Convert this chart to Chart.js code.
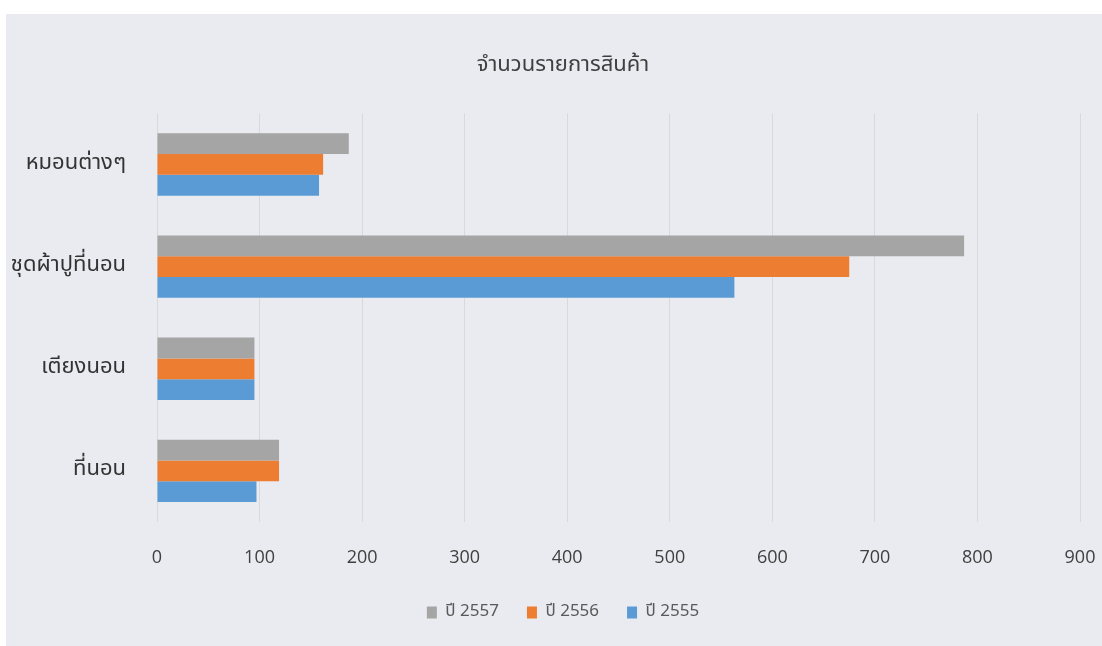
<!DOCTYPE html>
<html>
<head>
<meta charset="utf-8">
<script src="https://cdn.jsdelivr.net/npm/chart.js@4"></script>
<style>
    html, body { margin: 0; padding: 0; background: #ffffff; }
    #wrap {
        position: absolute;
        left: 6px; top: 14px;
        width: 1096px; height: 632px;
        background: #e9ebf0;
    }
</style>
</head>
<body>
<div id="wrap"><canvas id="productChart" width="1096" height="632"></canvas></div>
<script>
// Chart data
const categories = ['หมอนต่างๆ', 'ชุดผ้าปูที่นอน', 'เตียงนอน', 'ที่นอน'];
const seriesNames = ['ปี 2557', 'ปี 2556', 'ปี 2555'];
const values2557 = [187, 787, 95, 119];
const values2556 = [162, 675, 95, 119];
const values2555 = [158, 563, 95, 97];
const xMax = 900;
const xStep = 100;

const barColors = ['#a5a5a5', '#ed7d31', '#5b9bd5'];
const thaiFont = "'Noto Sans Thai', Tahoma, 'Open Sans', sans-serif";

// Title and legend sit a little right of the canvas centre in the original
const shiftBoxes = {
    id: 'shiftBoxes',
    afterLayout(chart) {
        [chart.legend, chart.titleBlock].forEach(box => {
            if (!box) return;
            box.left += 20;
            box.right += 20;
        });
    }
};

function initializeProductChart() {
    const ctx = document.getElementById('productChart');
    if (!ctx) return;

    const seriesValues = [values2557, values2556, values2555];

    return new Chart(ctx.getContext('2d'), {
        type: 'bar',
        data: {
            labels: categories,
            datasets: seriesNames.map((name, i) => ({
                label: name,
                data: seriesValues[i],
                backgroundColor: barColors[i],
                borderWidth: 0,
                categoryPercentage: 0.61,
                barPercentage: 1.0
            }))
        },
        options: {
            indexAxis: 'y',
            responsive: false,
            animation: false,
            layout: {
                padding: { top: 0, right: 22, bottom: 15, left: 0 }
            },
            scales: {
                x: {
                    min: 0,
                    max: xMax,
                    ticks: {
                        stepSize: xStep,
                        padding: 25,
                        color: '#404040',
                        font: { family: "'Open Sans', sans-serif", size: 18 }
                    },
                    grid: {
                        color: '#d9d9d9',
                        lineWidth: 1,
                        drawTicks: false
                    },
                    border: { display: false },
                    afterFit: function(scale) {
                        scale.height = 54;
                        scale.paddingLeft = 0;
                        scale.paddingRight = 0;
                    }
                },
                y: {
                    ticks: {
                        padding: 23,
                        color: '#333333',
                        font: { family: thaiFont, size: 22 }
                    },
                    grid: { display: false },
                    border: { display: false },
                    afterFit: function(scale) {
                        scale.width = 151;
                    }
                }
            },
            plugins: {
                title: {
                    display: true,
                    text: 'จำนวนรายการสินค้า',
                    color: '#404040',
                    font: { family: thaiFont, size: 22, weight: 'normal' },
                    padding: { top: 39, bottom: 34 }
                },
                legend: {
                    position: 'bottom',
                    labels: {
                        boxWidth: 10,
                        boxHeight: 12,
                        padding: 28,
                        color: '#595959',
                        font: { family: thaiFont, size: 17 }
                    }
                },
                tooltip: { enabled: false }
            }
        },
        plugins: [shiftBoxes]
    });
}

initializeProductChart();
</script>
</body>
</html>
